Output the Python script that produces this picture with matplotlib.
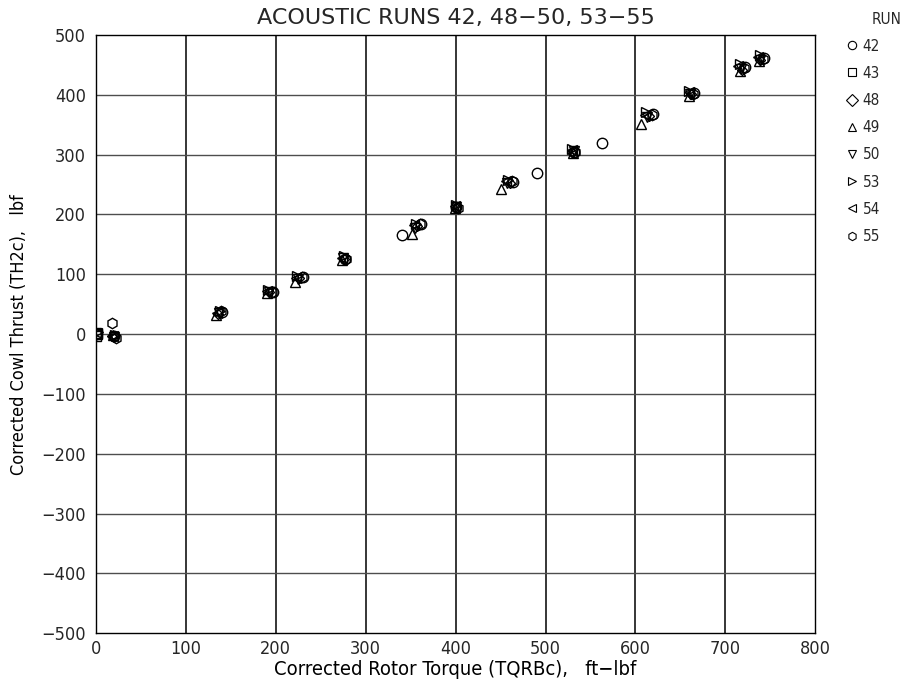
import matplotlib
matplotlib.use('Agg')
import matplotlib.pyplot as plt
from matplotlib.lines import Line2D

plt.rcParams['font.family'] = ['DejaVu Sans', 'sans-serif']
plt.rcParams['font.stretch'] = 'condensed'
plt.rcParams['text.color'] = '0.15'
plt.rcParams['xtick.color'] = '0.15'
plt.rcParams['ytick.color'] = '0.15'

# torque (ft-lbf) and cowl thrust (lbf) per acoustic run
run_42_x = [0, 20, 140, 197, 230, 277, 340, 362, 401, 464, 490, 532, 563, 620, 665, 722, 743]
run_42_y = [0, -4, 37, 71, 96, 126, 165, 184, 212, 255, 270, 305, 320, 368, 403, 447, 461]
run_43_x = [0, 0, 1]
run_43_y = [-3, 2, 0]
run_48_x = [18, 136, 193, 226, 276, 357, 400, 460, 530, 615, 662, 718, 739]
run_48_y = [-3, 34, 70, 93, 125, 181, 211, 252, 304, 365, 401, 442, 458]
run_49_x = [19, 134, 190, 221, 274, 351, 399, 450, 531, 606, 660, 716, 737]
run_49_y = [-2, 32, 69, 87, 124, 168, 210, 243, 303, 352, 398, 440, 457]
run_50_x = [20, 137, 192, 225, 275, 355, 401, 457, 532, 613, 661, 717, 738]
run_50_y = [-5, 35, 70, 92, 127, 178, 213, 253, 306, 363, 402, 443, 459]
run_53_x = [2, 21, 138, 191, 224, 276, 356, 400, 458, 530, 612, 660, 716, 738]
run_53_y = [3, -1, 38, 73, 97, 130, 184, 216, 258, 310, 371, 407, 452, 466]
run_54_x = [1, 19, 135, 190, 223, 274, 354, 399, 456, 529, 611, 659, 714, 736]
run_54_y = [1, -4, 36, 72, 94, 128, 182, 214, 256, 308, 367, 404, 448, 463]
run_55_x = [18, 22, 139, 196, 229, 278, 360, 403, 463, 533, 618, 664, 721, 742]
run_55_y = [18, -6, 38, 70, 96, 125, 184, 211, 256, 304, 366, 402, 445, 460]

runs = [
    ('42', 'o', run_42_x, run_42_y),
    ('43', 's', run_43_x, run_43_y),
    ('48', 'D', run_48_x, run_48_y),
    ('49', '^', run_49_x, run_49_y),
    ('50', 'v', run_50_x, run_50_y),
    ('53', '>', run_53_x, run_53_y),
    ('54', '<', run_54_x, run_54_y),
    ('55', 'h', run_55_x, run_55_y),
]

fig = plt.figure(figsize=(9.13, 6.86), dpi=100)
ax = fig.add_axes([0.105, 0.077, 0.788, 0.872])

for x in range(100, 800, 100):
    ax.axvline(x, color='black', lw=1.1, zorder=1)
for y in range(-400, 500, 100):
    ax.axhline(y, color='0.3', lw=1.0, zorder=1)

sizes = {'D': 5.5, 's': 6.5}
for name, mk, xs, ys in runs:
    ax.plot(xs, ys, linestyle='none', marker=mk, ms=sizes.get(mk, 7.5),
            mfc='none', mec='black', mew=1.0, zorder=3, label=name)

ax.set_xlim(0, 800)
ax.set_ylim(-500, 500)
ax.set_xticks(range(0, 801, 100))
ax.set_yticks(range(-500, 501, 100))
ax.tick_params(length=0, labelsize=13)
ax.tick_params(axis='x', pad=5)
ax.tick_params(axis='y', pad=7)
for s in ax.spines.values():
    s.set_linewidth(1.0)

ax.set_title('ACOUSTIC RUNS 42, 48\u221250, 53\u221255', fontsize=16,
             fontstretch='normal', pad=8)
ax.set_xlabel('Corrected Rotor Torque (TQRBc),   ft\u2212lbf', fontsize=14.5, labelpad=1)
ax.set_ylabel('Corrected Cowl Thrust (TH2c),   lbf', fontsize=13, labelpad=10)

handles = [Line2D([], [], linestyle='none', marker=mk, ms=6, mfc='none',
                  mec='black', mew=0.8) for _, mk, _, _ in runs]
fig.legend(handles, [r[0] for r in runs], loc='upper left',
           bbox_to_anchor=(0.918, 0.955), frameon=False, fontsize=11,
           handlelength=0.8, handletextpad=0.3, labelspacing=0.8,
           borderpad=0)
fig.text(0.955, 0.972, 'RUN', fontsize=11, ha='left', va='center')

fig.savefig('out.png', dpi=100)
